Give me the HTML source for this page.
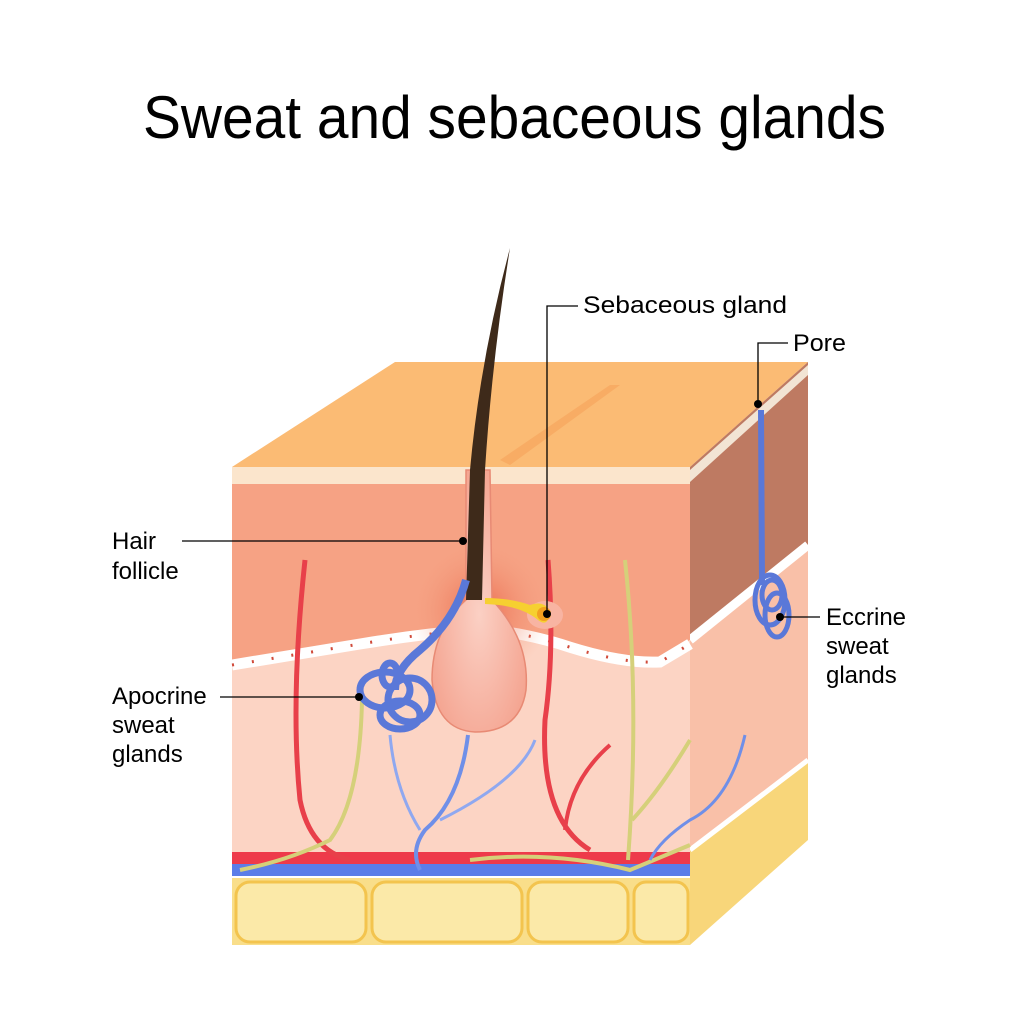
<!DOCTYPE html>
<html><head><meta charset="utf-8"><style>body{margin:0;background:#fff}svg{display:block}</style></head>
<body>
<svg width="1024" height="1024" viewBox="0 0 1024 1024" xmlns="http://www.w3.org/2000/svg" font-family="Liberation Sans, sans-serif">
<defs>
<radialGradient id="fol" cx="0.5" cy="0.55" r="0.6"><stop offset="0" stop-color="#fbd0c4"/><stop offset="1" stop-color="#f4a28e"/></radialGradient>
<radialGradient id="glow" cx="0.5" cy="0.5" r="0.5"><stop offset="0" stop-color="#e8593c" stop-opacity="0.8"/><stop offset="1" stop-color="#f4a384" stop-opacity="0"/></radialGradient>
</defs>
<text x="143" y="138" font-size="60" textLength="743" lengthAdjust="spacingAndGlyphs" fill="#000">Sweat and sebaceous glands</text>
<!-- top face -->
<polygon points="232,467 395,362 808,362 690,467" fill="#fbbb74"/>
<polygon points="500,460 610,385 620,385 510,465" fill="#f7a55e" opacity="0.7"/>
<!-- right face -->
<polygon points="690,467 808,362 808,545 690,640" fill="#be7a62"/>
<polygon points="690,470 808,365 808,375 690,482" fill="#f2e4d4"/>
<polygon points="690,640 808,545 808,760 690,850" fill="#f9c0a8"/>
<polygon points="690,850 808,760 808,840 690,945" fill="#f8d67a"/>
<path d="M690,850 L808,760" stroke="#fff" stroke-width="5"/>
<path d="M690,640 L808,545" stroke="#fff" stroke-width="9"/>
<!-- front face -->
<rect x="232" y="467" width="458" height="17" fill="#fbe5cc"/>
<path d="M232,484 H690 V640 L660,658 Q620,660 560,640 Q520,628 480,625 Q420,630 360,640 Q300,650 232,660 Z" fill="#f6a284"/>
<path d="M232,660 Q300,650 360,640 Q420,630 480,625 Q520,628 560,640 Q620,660 660,658 L690,640 V855 H232 Z" fill="#fcd4c4"/>
<path d="M232,665 Q300,654 360,644 Q420,634 480,629 Q520,632 560,644 Q620,664 660,662 L690,644" fill="none" stroke="#fff" stroke-width="11"/>
<path d="M232,665 Q300,654 360,644 Q420,634 480,629 Q520,632 560,644 Q620,664 660,662 L690,644" fill="none" stroke="#d04a3a" stroke-width="3" stroke-dasharray="2,18"/>
<rect x="232" y="878" width="458" height="67" fill="#f9de8a"/>
<g fill="#fbe9a8" stroke="#f3c44e" stroke-width="3">
<rect x="236" y="882" width="130" height="60" rx="14"/><rect x="372" y="882" width="150" height="60" rx="14"/><rect x="528" y="882" width="100" height="60" rx="14"/><rect x="634" y="882" width="54" height="60" rx="12"/>
</g>
<!-- vessels -->
<rect x="232" y="852" width="458" height="12" fill="#ee3a4a"/>
<rect x="232" y="864" width="458" height="12" fill="#5b7de8"/>
<path d="M305,560 Q290,700 300,800 Q310,850 350,860" stroke="#e8404a" stroke-width="5" fill="none"/>
<path d="M548,560 Q555,650 545,720 Q540,820 590,850" stroke="#e8404a" stroke-width="5" fill="none"/>
<path d="M610,745 Q570,780 565,830" stroke="#e8404a" stroke-width="4" fill="none"/>
<path d="M362,700 Q360,800 330,840 Q290,860 240,870" stroke="#d5d07a" stroke-width="4" fill="none"/>
<path d="M625,560 Q640,700 628,860" stroke="#d5d07a" stroke-width="4" fill="none"/>
<path d="M690,740 Q660,790 632,820" stroke="#d5d07a" stroke-width="4" fill="none"/>
<path d="M470,860 Q550,850 630,870 L690,845" stroke="#d5d07a" stroke-width="4" fill="none"/>
<path d="M468,735 Q460,800 425,830 Q410,850 420,870" stroke="#6f8fe8" stroke-width="4" fill="none"/>
<path d="M390,735 Q395,790 420,830" stroke="#8fa8f0" stroke-width="3" fill="none"/>
<path d="M535,740 Q520,780 440,820" stroke="#8fa8f0" stroke-width="3" fill="none"/>
<path d="M745,735 Q730,800 690,820 Q660,840 650,860" stroke="#6f8fe8" stroke-width="3" fill="none"/>
<!-- follicle -->
<ellipse cx="480" cy="610" rx="70" ry="70" fill="url(#glow)"/>
<path d="M466,470 L490,470 L492,600 Q530,640 526,690 Q520,732 475,732 Q436,730 432,680 Q432,630 466,600 Z" fill="url(#fol)" stroke="#e88a74" stroke-width="1.5"/>
<ellipse cx="545" cy="615" rx="18" ry="14" fill="#f8b4a2"/>
<path d="M485,598 Q510,598 530,605 Q545,600 550,612 Q548,628 538,620 Q520,605 485,604 Z" fill="#f6d030"/>
<circle cx="544" cy="614" r="7" fill="#f2a020"/>
<path d="M510,248 Q480,360 470,470 L466,600 L482,600 L485,470 Q492,360 510,248 Z" fill="#3e2a1a"/>
<!-- apocrine -->
<path d="M466,580 Q455,620 420,650 Q395,670 395,690" stroke="#5a78d8" stroke-width="8" fill="none"/>
<g stroke="#5a78d8" stroke-width="7" fill="none">
<ellipse cx="385" cy="690" rx="25" ry="18"/><ellipse cx="410" cy="700" rx="22" ry="22"/><ellipse cx="400" cy="715" rx="20" ry="14"/><ellipse cx="390" cy="675" rx="8" ry="12"/>
</g>
<!-- eccrine -->
<path d="M761,410 L762,585" stroke="#5a78d8" stroke-width="6"/>
<g stroke="#5a78d8" stroke-width="5" fill="none">
<ellipse cx="770" cy="600" rx="15" ry="25"/><ellipse cx="777" cy="615" rx="12" ry="22"/><ellipse cx="772" cy="595" rx="10" ry="15"/>
</g>
<!-- labels -->
<g stroke="#000" stroke-width="1.3" fill="none">
<path d="M182,541 H463"/><path d="M220,697 H359"/><path d="M547,614 V306 H578"/><path d="M758,404 V343 H788"/><path d="M780,617 H820"/>
</g>
<g fill="#000"><circle cx="463" cy="541" r="4"/><circle cx="359" cy="697" r="4"/><circle cx="547" cy="614" r="4"/><circle cx="758" cy="404" r="4"/><circle cx="780" cy="617" r="4"/></g>
<g font-size="24" fill="#000">
<text x="583" y="313" textLength="204" lengthAdjust="spacingAndGlyphs">Sebaceous gland</text>
<text x="793" y="351" textLength="53" lengthAdjust="spacingAndGlyphs">Pore</text>
<text x="112" y="549">Hair</text><text x="112" y="579">follicle</text>
<text x="112" y="704">Apocrine</text><text x="112" y="733">sweat</text><text x="112" y="762">glands</text>
<text x="826" y="625">Eccrine</text><text x="826" y="654">sweat</text><text x="826" y="683">glands</text>
</g>
</svg>
</body></html>
